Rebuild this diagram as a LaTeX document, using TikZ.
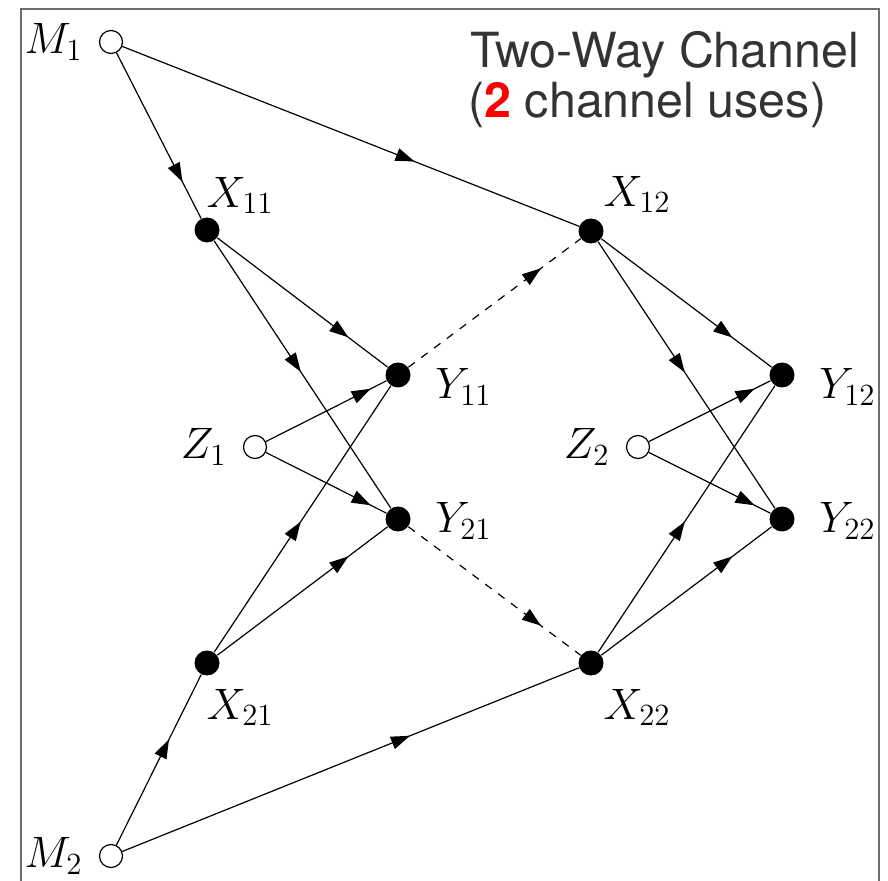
\documentclass[tikz,border=0pt]{standalone}
\usepackage{fix-cm}
\usepackage{fontspec}
\newfontfamily\heros{TeX Gyre Heros}
\usetikzlibrary{arrows.meta,decorations.markings,positioning}
\definecolor{titlegray}{HTML}{333333}
\definecolor{framegray}{HTML}{6E6E6E}
\tikzstyle{src}=[circle,draw,fill=white,inner sep=0pt,minimum size=11.5pt,line width=0.6pt]
\tikzstyle{sym}=[circle,fill=black,inner sep=0pt,minimum size=12.5pt]
\tikzstyle{lab}=[inner sep=0pt,font=\fontsize{22}{26}\selectfont]
\tikzstyle{ttl}=[anchor=base west,inner sep=0pt,text=titlegray,font=\heros\fontsize{24.2}{25}\selectfont]
\tikzstyle{edge}=[line width=0.6pt]
\tikzstyle{fb}=[edge,dash pattern=on 4pt off 4pt]
\tikzset{mid/.style={postaction={decorate},decoration={markings,mark=at position #1 with {\arrow{Triangle[length=9.5pt,width=6.5pt]}}}}}

\begin{document}
\begin{tikzpicture}[x=0.5pt,y=-0.5pt]
\clip (0,0) rectangle (888,881);
\draw[framegray,line width=1pt] (21,9) rectangle (879,900);
% sources and symbols
\node[src] (m1) at (111,42) {};
\node[src] (m2) at (111,856) {};
\node[src] (z1) at (255,447) {};
\node[src] (z2) at (638,447) {};
\node[sym] (x11) at (207,230) {};
\node[sym] (x21) at (207,663) {};
\node[sym] (x12) at (591,231) {};
\node[sym] (x22) at (591,663) {};
\node[sym] (y11) at (398,375) {};
\node[sym] (y21) at (398,519) {};
\node[sym] (y12) at (782,375) {};
\node[sym] (y22) at (782,519) {};
% labels
\node[lab,left=8pt of m1] (lm1) {$M_1$};
\node[lab,left=8pt of m2] (lm2) {$M_2$};
\node[lab,left=8pt of z1] (lz1) {$Z_1$};
\node[lab,left=8pt of z2] (lz2) {$Z_2$};
\node[lab,above=1.5pt of x11,xshift=16.5pt] (lx11) {$X_{11}$};
\node[lab,above=2.5pt of x12,xshift=23pt] (lx12) {$X_{12}$};
\node[lab,below=6.5pt of x21,xshift=16.5pt] (lx21) {$X_{21}$};
\node[lab,below=6.5pt of x22,xshift=23pt] (lx22) {$X_{22}$};
\node[lab,right=12pt of y11,yshift=-6pt] (ly11) {$Y_{11}$};
\node[lab,right=12pt of y12,yshift=-6pt] (ly12) {$Y_{12}$};
\node[lab,right=12pt of y21,yshift=-1pt] (ly21) {$Y_{21}$};
\node[lab,right=12pt of y22,yshift=-1pt] (ly22) {$Y_{22}$};
% title
\node[ttl] (t1) at (470,68) {Two-Way Channel};
\node[ttl] (t2) at (468,118) {(\textbf{\color{red}2} channel uses)};
% first channel use
\draw[edge,mid=0.78] (m1) -- (x11);
\draw[edge,mid=0.64] (m1) -- (x12);
\draw[edge,mid=0.62] (m2) -- (x21);
\draw[edge,mid=0.63] (m2) -- (x22);
\draw[edge,mid=0.77] (x11) -- (y11);
\draw[edge,mid=0.49] (x11) -- (y21);
\draw[edge,mid=0.49] (x21) -- (y11);
\draw[edge,mid=0.77] (x21) -- (y21);
\draw[edge,mid=0.87] (z1) -- (y11);
\draw[edge,mid=0.87] (z1) -- (y21);
% feedback
\draw[fb,mid=0.77] (y11) -- (x12);
\draw[fb,mid=0.77] (y21) -- (x22);
% second channel use
\draw[edge,mid=0.77] (x12) -- (y12);
\draw[edge,mid=0.49] (x12) -- (y22);
\draw[edge,mid=0.49] (x22) -- (y12);
\draw[edge,mid=0.77] (x22) -- (y22);
\draw[edge,mid=0.87] (z2) -- (y12);
\draw[edge,mid=0.87] (z2) -- (y22);
\end{tikzpicture}
\end{document}
